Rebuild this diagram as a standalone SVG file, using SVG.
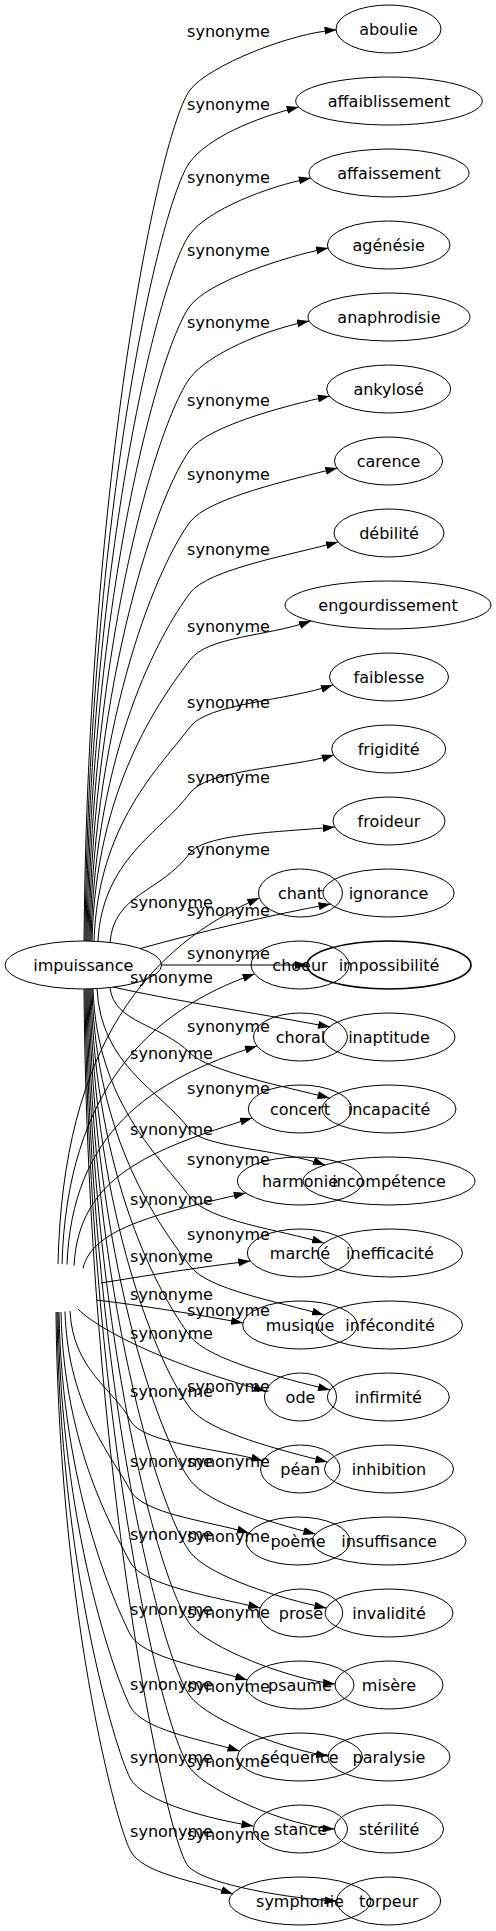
<svg xmlns="http://www.w3.org/2000/svg" width="496" height="1931" viewBox="0 0 496 1931">
<style>
.e{fill:none;stroke:#000;stroke-width:1;marker-end:url(#ah)}
.n ellipse{fill:none;stroke:#000;stroke-width:1}
text{font-family:"DejaVu Sans","Liberation Sans",sans-serif;font-size:16px;fill:#000;text-anchor:middle}
</style>
<defs>
<marker id="ah" viewBox="0 0 12 8" refX="12" refY="4" markerWidth="12" markerHeight="8" markerUnits="userSpaceOnUse" orient="auto"><path d="M0,0 L12,4 L0,8 z" fill="#000"/></marker>
</defs>
<rect width="496" height="1931" fill="#fff"/>
<g id="edges">
<path class="e" d="M84,941 C88,473 160,130 190,90 C208,66 291.5,32.3 336.5,30"/>
<path class="e" d="M85,941 C89,512.5 160,202 190,162 C208,138 253.7,118.3 298.7,107"/>
<path class="e" d="M86,941 C90,552 160,274 190,234 C208,210 265.8,187 310.8,178"/>
<path class="e" d="M87,941 C91,592 160,346 190,306 C208,282 283.2,257 328.2,248"/>
<path class="e" d="M88,941 C92,631 160,418 190,378 C208,354 264.1,330 309.1,321"/>
<path class="e" d="M89,941 C93,671 160,490 190,450 C208,426 284.7,405.9 329.7,396"/>
<path class="e" d="M90,941 C94,710.5 160,562 190,522 C208,498 292.4,479.3 337.4,468"/>
<path class="e" d="M91,941 C95,749.7 160,633 190,593 C208,569 293,554.6 338,542"/>
<path class="e" d="M92,941 C96,786.6 160,700 190,660 C208,636 266,636.8 311,621"/>
<path class="e" d="M94,941 C98,823.5 160,767 190,727 C208,703 287.9,700.8 332.9,685"/>
<path class="e" d="M98,941.5 C102,859.8 160,833 190,793 C208,769 288.8,768.5 333.8,755"/>
<path class="e" d="M110,942.5 C114,893.3 160,893 190,853 C205,833 289.8,831.5 334.8,827"/>
<path class="e" d="M140,948.6 C200,932 270,915 330.6,904"/>
<path class="e" d="M161.5,965 L307,965"/>
<path class="e" d="M113,987 C170,1000 250,1012 330,1027"/>
<path class="e" d="M110,987.5 C114,1023.3 160,1023.3 190,1053 C208,1071 284.5,1086.7 329.5,1098"/>
<path class="e" d="M97,988.6 C101,1066.4 160,1090 190,1130 C205,1148 280,1149.3 325,1165"/>
<path class="e" d="M93,988.8 C97,1103.3 160,1157 190,1197 C208,1221 278.9,1229.5 323.9,1243"/>
<path class="e" d="M92,988.9 C96,1141.3 160,1226 190,1266 C208,1290 278.9,1301.5 323.9,1315"/>
<path class="e" d="M91,988.9 C95,1179.8 160,1296 190,1336 C208,1360 285,1378.7 330,1390"/>
<path class="e" d="M90,989 C94,1219.5 160,1368 190,1408 C208,1432 282.3,1450.7 327.3,1462"/>
<path class="e" d="M89,989 C93,1259 160,1440 190,1480 C208,1504 270.4,1522.7 315.4,1534"/>
<path class="e" d="M88,989 C92,1298.7 160,1512 190,1552 C208,1576 281.4,1599 326.4,1608"/>
<path class="e" d="M87,989 C91,1338.3 160,1584 190,1624 C208,1648 290,1679.5 335,1684"/>
<path class="e" d="M86,989 C90,1377.9 160,1656 190,1696 C208,1720 283,1749.2 328,1756"/>
<path class="e" d="M85,989 C89,1417.5 160,1728 190,1768 C208,1792 289.5,1826.7 334.5,1829"/>
<path class="e" d="M84,989 C88,1471 165,1836 188,1866 C205,1885 291.5,1898.7 336.5,1901"/>
<path class="e" d="M58,1264 C63,1044 150,945 259.4,898"/>
<path class="e" d="M62,1264.2 C67,1090 150,1010 254.6,974"/>
<path class="e" d="M67,1264.6 C72,1133 150,1080 256.9,1046"/>
<path class="e" d="M74,1265.6 C79,1176 150,1150 252,1118"/>
<path class="e" d="M83,1268.4 C92,1230 150,1215 245.7,1193"/>
<path class="e" d="M101,1283 C150,1275 200,1267 250.3,1261"/>
<path class="e" d="M96,1300 C140,1305 200,1315 243,1323"/>
<path class="e" d="M78,1309.2 C105,1335 180,1368 265.6,1391"/>
<path class="e" d="M70,1311 C73,1371 115,1390 130,1420 C142,1444 223,1449 263,1461"/>
<path class="e" d="M65,1311.6 C68,1409.7 115,1460 130,1490 C142,1514 209,1521 249,1533"/>
<path class="e" d="M61,1312 C64,1449.5 115,1532 130,1562 C142,1586 220.2,1598 260.2,1608"/>
<path class="e" d="M59,1312 C62,1489 115,1604 130,1634 C142,1658 207.2,1668 247.2,1680"/>
<path class="e" d="M58,1312 C61,1528.7 115,1676 130,1706 C142,1730 199.5,1739 239.5,1751"/>
<path class="e" d="M57,1312 C60,1568.3 115,1748 130,1778 C142,1802 213.4,1820 253.4,1826"/>
<path class="e" d="M56,1312 C59,1607.9 115,1820 130,1850 C142,1874 193,1880 233,1894"/>
</g>
<g id="edge-labels">
<text x="228.5" y="36.5">synonyme</text>
<text x="228.5" y="109.5">synonyme</text>
<text x="228.5" y="182.5">synonyme</text>
<text x="228.5" y="255.5">synonyme</text>
<text x="228.5" y="327.5">synonyme</text>
<text x="228.5" y="405.5">synonyme</text>
<text x="228.5" y="479.5">synonyme</text>
<text x="228.5" y="554.5">synonyme</text>
<text x="228.5" y="631.5">synonyme</text>
<text x="228.5" y="707.5">synonyme</text>
<text x="228.5" y="782.5">synonyme</text>
<text x="228.5" y="854.5">synonyme</text>
<text x="228.5" y="915.5">synonyme</text>
<text x="228.5" y="958.5">synonyme</text>
<text x="228.5" y="1031.5">synonyme</text>
<text x="228.5" y="1093.5">synonyme</text>
<text x="228.5" y="1164.5">synonyme</text>
<text x="228.5" y="1239.5">synonyme</text>
<text x="228.5" y="1315.5">synonyme</text>
<text x="228.5" y="1391.5">synonyme</text>
<text x="228.5" y="1466.5">synonyme</text>
<text x="228.5" y="1541.5">synonyme</text>
<text x="228.5" y="1617.5">synonyme</text>
<text x="228.5" y="1691.5">synonyme</text>
<text x="228.5" y="1766.5">synonyme</text>
<text x="228.5" y="1839.5">synonyme</text>
<text x="171.5" y="907.5">synonyme</text>
<text x="171.5" y="982.5">synonyme</text>
<text x="171.5" y="1058.5">synonyme</text>
<text x="171.5" y="1134.5">synonyme</text>
<text x="171.5" y="1204.5">synonyme</text>
<text x="171.5" y="1261.5">synonyme</text>
<text x="171.5" y="1299.5">synonyme</text>
<text x="171.5" y="1338.5">synonyme</text>
<text x="171.5" y="1396.5">synonyme</text>
<text x="171.5" y="1466.5">synonyme</text>
<text x="171.5" y="1539.5">synonyme</text>
<text x="171.5" y="1614.5">synonyme</text>
<text x="171.5" y="1689.5">synonyme</text>
<text x="171.5" y="1762.5">synonyme</text>
<text x="171.5" y="1836.5">synonyme</text>
</g>
<g id="n-impuissance" class="n"><ellipse cx="83.3" cy="965" rx="78.3" ry="24"/><text x="83.3" y="970.5">impuissance</text></g>
<g id="n-aboulie" class="n"><ellipse cx="388.5" cy="29" rx="52.5" ry="24"/><text x="388.5" y="34.5">aboulie</text></g>
<g id="n-affaiblissement" class="n"><ellipse cx="389" cy="101" rx="93.3" ry="24"/><text x="389" y="106.5">affaiblissement</text></g>
<g id="n-affaissement" class="n"><ellipse cx="389" cy="173" rx="80" ry="24"/><text x="389" y="178.5">affaissement</text></g>
<g id="n-agenesie" class="n"><ellipse cx="388.7" cy="245" rx="61.3" ry="24"/><text x="388.7" y="250.5">agénésie</text></g>
<g id="n-anaphrodisie" class="n"><ellipse cx="389" cy="317" rx="81" ry="24"/><text x="389" y="322.5">anaphrodisie</text></g>
<g id="n-ankylose" class="n"><ellipse cx="388.7" cy="389" rx="62" ry="24"/><text x="388.7" y="394.5">ankylosé</text></g>
<g id="n-carence" class="n"><ellipse cx="388.5" cy="461" rx="54" ry="24"/><text x="388.5" y="466.5">carence</text></g>
<g id="n-debilite" class="n"><ellipse cx="389" cy="533" rx="55" ry="24"/><text x="389" y="538.5">débilité</text></g>
<g id="n-engourdissement" class="n"><ellipse cx="388" cy="605" rx="103" ry="24"/><text x="388" y="610.5">engourdissement</text></g>
<g id="n-faiblesse" class="n"><ellipse cx="389" cy="677" rx="59.5" ry="24"/><text x="389" y="682.5">faiblesse</text></g>
<g id="n-frigidite" class="n"><ellipse cx="388.7" cy="749" rx="57" ry="24"/><text x="388.7" y="754.5">frigidité</text></g>
<g id="n-froideur" class="n"><ellipse cx="389" cy="821" rx="56" ry="24"/><text x="389" y="826.5">froideur</text></g>
<g id="n-ignorance" class="n"><ellipse cx="388.5" cy="893" rx="65.7" ry="24"/><text x="388.5" y="898.5">ignorance</text></g>
<g id="n-impossibilite" class="n"><ellipse cx="389" cy="965" rx="82" ry="24" style="stroke-width:1.7"/><text x="389" y="970.5">impossibilité</text></g>
<g id="n-inaptitude" class="n"><ellipse cx="389" cy="1037" rx="66" ry="24"/><text x="389" y="1042.5">inaptitude</text></g>
<g id="n-incapacite" class="n"><ellipse cx="389" cy="1109" rx="67" ry="24"/><text x="389" y="1114.5">incapacité</text></g>
<g id="n-incompetence" class="n"><ellipse cx="389" cy="1181" rx="86" ry="24"/><text x="389" y="1186.5">incompétence</text></g>
<g id="n-inefficacite" class="n"><ellipse cx="390" cy="1253" rx="72.5" ry="24"/><text x="390" y="1258.5">inefficacité</text></g>
<g id="n-infecondite" class="n"><ellipse cx="390" cy="1325" rx="72.5" ry="24"/><text x="390" y="1330.5">infécondité</text></g>
<g id="n-infirmite" class="n"><ellipse cx="388.3" cy="1397" rx="61" ry="24"/><text x="388.3" y="1402.5">infirmité</text></g>
<g id="n-inhibition" class="n"><ellipse cx="389" cy="1469" rx="64.5" ry="24"/><text x="389" y="1474.5">inhibition</text></g>
<g id="n-insuffisance" class="n"><ellipse cx="389" cy="1541" rx="77" ry="24"/><text x="389" y="1546.5">insuffisance</text></g>
<g id="n-invalidite" class="n"><ellipse cx="389" cy="1613" rx="64" ry="24"/><text x="389" y="1618.5">invalidité</text></g>
<g id="n-misere" class="n"><ellipse cx="389" cy="1685" rx="54" ry="24"/><text x="389" y="1690.5">misère</text></g>
<g id="n-paralysie" class="n"><ellipse cx="389" cy="1757" rx="61" ry="24"/><text x="389" y="1762.5">paralysie</text></g>
<g id="n-sterilite" class="n"><ellipse cx="389" cy="1829" rx="54.5" ry="24"/><text x="389" y="1834.5">stérilité</text></g>
<g id="n-torpeur" class="n"><ellipse cx="388.7" cy="1901" rx="52" ry="24"/><text x="388.7" y="1906.5">torpeur</text></g>
<g id="n-chant" class="n"><ellipse cx="300.5" cy="893" rx="42" ry="24"/><text x="300.5" y="898.5">chant</text></g>
<g id="n-choeur" class="n"><ellipse cx="300" cy="965" rx="49" ry="24"/><text x="300" y="970.5">choeur</text></g>
<g id="n-choral" class="n"><ellipse cx="300.5" cy="1037" rx="47" ry="24"/><text x="300.5" y="1042.5">choral</text></g>
<g id="n-concert" class="n"><ellipse cx="300" cy="1109" rx="51.7" ry="24"/><text x="300" y="1114.5">concert</text></g>
<g id="n-harmonie" class="n"><ellipse cx="300" cy="1181" rx="62.7" ry="24"/><text x="300" y="1186.5">harmonie</text></g>
<g id="n-marche" class="n"><ellipse cx="300" cy="1253" rx="52.7" ry="24"/><text x="300" y="1258.5">marché</text></g>
<g id="n-musique" class="n"><ellipse cx="300" cy="1325" rx="57.3" ry="24"/><text x="300" y="1330.5">musique</text></g>
<g id="n-ode" class="n"><ellipse cx="300.5" cy="1397" rx="36" ry="24"/><text x="300.5" y="1402.5">ode</text></g>
<g id="n-pean" class="n"><ellipse cx="300.3" cy="1469" rx="39.7" ry="24"/><text x="300.3" y="1474.5">péan</text></g>
<g id="n-poeme" class="n"><ellipse cx="298" cy="1541" rx="52" ry="24"/><text x="298" y="1546.5">poème</text></g>
<g id="n-prose" class="n"><ellipse cx="301" cy="1613" rx="41.7" ry="24"/><text x="301" y="1618.5">prose</text></g>
<g id="n-psaume" class="n"><ellipse cx="300" cy="1685" rx="54" ry="24"/><text x="300" y="1690.5">psaume</text></g>
<g id="n-sequence" class="n"><ellipse cx="300" cy="1757" rx="62.5" ry="24"/><text x="300" y="1762.5">séquence</text></g>
<g id="n-stance" class="n"><ellipse cx="300.5" cy="1829" rx="47" ry="24"/><text x="300.5" y="1834.5">stance</text></g>
<g id="n-symphonie" class="n"><ellipse cx="300" cy="1901" rx="71" ry="24"/><text x="300" y="1906.5">symphonie</text></g>
</svg>
